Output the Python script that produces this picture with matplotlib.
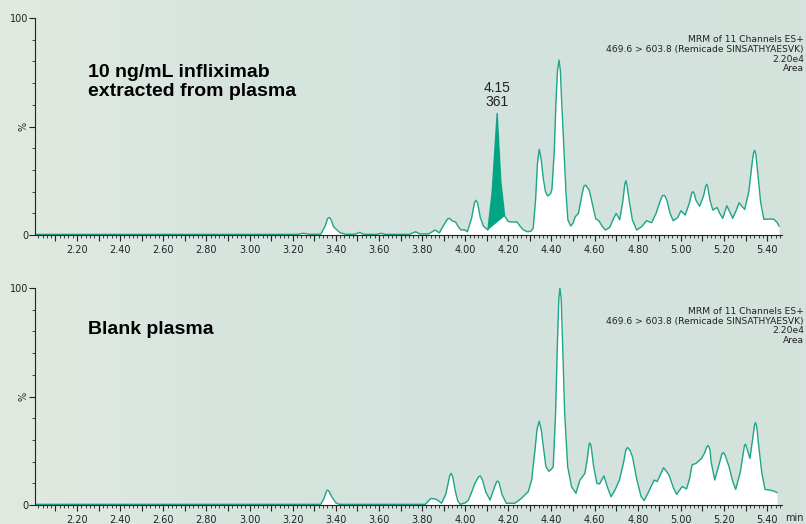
import numpy as np
import matplotlib
import matplotlib.pyplot as plt
from matplotlib.ticker import MultipleLocator, FuncFormatter

matplotlib.use('Agg')

# retention time (min) and relative intensity (%)
sample_time = [2.00, 3.22, 3.25, 3.28, 3.33, 3.35, 3.362, 3.37, 3.378, 3.39, 3.40, 3.42, 3.45,
               3.49, 3.51, 3.53, 3.59, 3.61, 3.63, 3.74, 3.77, 3.79, 3.83, 3.86, 3.88, 3.90,
               3.918, 3.927, 3.94, 3.955, 3.97, 3.98, 3.995, 4.01, 4.03, 4.043, 4.05, 4.058,
               4.07, 4.085, 4.105, 4.125, 4.148, 4.165, 4.183, 4.20, 4.22, 4.24, 4.255, 4.27,
               4.29, 4.305, 4.315, 4.326, 4.335, 4.343, 4.352, 4.362, 4.372, 4.382, 4.395,
               4.402, 4.413, 4.421, 4.428, 4.435, 4.441, 4.447, 4.458, 4.467, 4.476, 4.489,
               4.50, 4.51, 4.525, 4.54, 4.55, 4.558, 4.575, 4.59, 4.605, 4.62, 4.635, 4.65,
               4.67, 4.685, 4.70, 4.716, 4.73, 4.74, 4.745, 4.75, 4.76, 4.775, 4.795, 4.82,
               4.84, 4.864, 4.885, 4.905, 4.915, 4.925, 4.935, 4.95, 4.964, 4.985, 5.00, 5.02,
               5.04, 5.05, 5.056, 5.062, 5.07, 5.087, 5.105, 5.115, 5.12, 5.125, 5.135, 5.148,
               5.168, 5.18, 5.194, 5.213, 5.225, 5.24, 5.255, 5.27, 5.285, 5.296, 5.315, 5.33,
               5.337, 5.342, 5.348, 5.355, 5.37, 5.385, 5.41, 5.43, 5.445, 5.455]
sample_pct = [0.3, 0.3, 0.8, 0.3, 0.4, 4.0, 7.6, 8.1, 7.0, 3.8, 2.8, 1.0, 0.3,
              0.4, 1.2, 0.3, 0.3, 0.8, 0.3, 0.3, 1.5, 0.5, 0.5, 2.3, 1.0, 4.5,
              7.4, 7.7, 6.5, 6.0, 3.5, 2.3, 2.5, 1.5, 8.0, 15.0, 16.0, 14.5,
              8.0, 4.0, 2.3, 20.0, 56.0, 25.0, 8.7, 6.2, 6.0, 6.0, 4.0, 2.3,
              1.5, 1.8, 3.0, 16.0, 33.0, 39.5, 35.0, 26.0, 20.0, 18.0, 19.0,
              21.0, 39.0, 62.0, 76.0, 80.6, 76.0, 62.0, 39.0, 20.0, 7.0, 4.1,
              5.5, 8.4, 10.0, 18.0, 22.5, 23.0, 20.7, 14.0, 7.5, 6.5, 4.0, 2.3,
              3.5, 7.0, 10.0, 7.0, 15.0, 23.5, 25.0, 23.0, 16.0, 7.0, 2.3, 4.0,
              6.6, 5.7, 10.0, 16.0, 18.2, 18.2, 16.0, 10.0, 6.6, 8.0, 11.2, 9.2,
              15.0, 19.3, 20.0, 19.0, 16.0, 13.3, 18.0, 22.5, 23.4, 22.0, 16.0, 11.5,
              12.7, 10.0, 7.7, 13.5, 11.0, 7.7, 11.0, 14.9, 13.0, 11.8, 20.0, 33.0,
              38.0, 39.0, 37.0, 30.0, 15.0, 7.2, 7.4, 7.3, 6.0, 4.1]

blank_time = [2.00, 3.33, 3.345, 3.356, 3.362, 3.37, 3.38, 3.40, 3.415, 3.815, 3.84, 3.86, 3.875,
              3.89, 3.91, 3.928, 3.935, 3.942, 3.955, 3.965, 3.977, 4.00, 4.015, 4.03, 4.045,
              4.062, 4.07, 4.08, 4.095, 4.115, 4.135, 4.146, 4.152, 4.158, 4.17, 4.19, 4.23,
              4.26, 4.28, 4.292, 4.308, 4.323, 4.333, 4.343, 4.352, 4.362, 4.374, 4.388, 4.40,
              4.408, 4.419, 4.427, 4.434, 4.439, 4.445, 4.452, 4.461, 4.475, 4.493, 4.513,
              4.532, 4.555, 4.567, 4.574, 4.578, 4.584, 4.595, 4.61, 4.623, 4.643, 4.66, 4.676,
              4.695, 4.715, 4.735, 4.745, 4.753, 4.765, 4.776, 4.795, 4.815, 4.83, 4.85, 4.876,
              4.89, 4.905, 4.92, 4.945, 4.965, 4.98, 5.006, 5.026, 5.04, 5.052, 5.07, 5.085,
              5.096, 5.11, 5.12, 5.127, 5.135, 5.14, 5.157, 5.175, 5.19, 5.197, 5.205, 5.223,
              5.24, 5.254, 5.275, 5.295, 5.30, 5.32, 5.335, 5.341, 5.346, 5.352, 5.36, 5.375,
              5.39, 5.41, 5.43, 5.445]
blank_pct = [0.3, 0.3, 3.0, 6.2, 6.9, 6.0, 4.0, 1.0, 0.3, 0.3, 3.0, 2.8, 2.0,
             0.8, 5.0, 13.5, 14.6, 13.0, 6.0, 2.0, 0.3, 1.0, 2.3, 6.0, 10.0,
             13.0, 13.4, 11.5, 6.0, 2.3, 8.0, 10.8, 11.0, 10.0, 5.0, 0.8, 0.8,
             3.0, 5.0, 6.1, 11.5, 25.0, 35.0, 38.6, 35.0, 27.0, 17.7, 15.5, 16.5,
             17.7, 42.4, 73.0, 95.0, 100.0, 95.0, 73.0, 42.4, 17.7, 8.4, 5.4,
             11.5, 14.6, 22.0, 27.8, 28.6, 27.0, 18.0, 10.0, 9.7, 13.4, 8.0, 3.8,
             7.0, 11.5, 20.0, 25.5, 26.5, 25.0, 22.0, 12.0, 4.0, 2.0, 6.0, 11.5,
             10.8, 14.0, 17.2, 13.8, 8.0, 4.9, 8.5, 7.4, 12.0, 18.5, 19.2, 20.5,
             21.5, 24.0, 26.8, 27.4, 25.5, 20.0, 11.5, 18.0, 23.5, 24.2, 23.0, 17.7,
             11.0, 7.2, 15.0, 27.5, 28.0, 21.5, 32.0, 36.5, 38.0, 36.0, 28.0, 15.0,
             7.2, 6.9, 6.5, 5.7]

# integrated peak in the sample trace
peak_start, peak_end = 4.105, 4.183
peak_label = '4.15\n361'

info_text = 'MRM of 11 Channels ES+\n469.6 > 603.8 (Remicade SINSATHYAESVK)\n2.20e4\nArea'
panel_titles = ['10 ng/mL infliximab\nextracted from plasma', 'Blank plasma']

line_color = '#1fa58a'
peak_color = '#00a584'
text_color = '#222222'


def style_axis(ax, show_min):
    ax.set_xlim(2.005, 5.468)
    ax.set_ylim(0, 100)
    ax.patch.set_alpha(0)
    for side in ['top', 'right']:
        ax.spines[side].set_visible(False)
    for side in ['left', 'bottom']:
        ax.spines[side].set_color('#222222')
        ax.spines[side].set_linewidth(0.8)

    ax.xaxis.set_major_locator(MultipleLocator(0.1))
    ax.xaxis.set_minor_locator(MultipleLocator(0.02))
    ax.xaxis.set_major_formatter(FuncFormatter(
        lambda v, p: f'{v:.2f}' if round(v * 10) % 2 == 0 else ''))
    ax.tick_params(axis='x', which='major', length=4, width=0.8, pad=3,
                   labelsize=7, labelcolor=text_color, color='#222222')
    ax.tick_params(axis='x', which='minor', length=2, width=0.6, color='#222222')

    ax.set_yticks([0, 50, 100])
    ax.set_yticklabels(['0', '%', '100'])
    ax.yaxis.set_minor_locator(MultipleLocator(10))
    ax.tick_params(axis='y', which='major', length=4, width=0.8, pad=1,
                   labelsize=7, labelcolor=text_color, color='#222222')
    ax.tick_params(axis='y', which='minor', length=2.5, width=0.6, color='#222222')
    ax.get_yticklabels()[1].set_rotation(90)
    ax.get_yticklabels()[1].set_va('center')

    if show_min:
        ax.text(1.005, -0.058, 'min', transform=ax.transAxes, fontsize=7,
                color=text_color, ha='left', va='center')


def plot():
    fig = plt.figure(figsize=(8.06, 5.24), dpi=100)

    # soft background, only slightly lighter towards the left edge
    bg = fig.add_axes([0, 0, 1, 1], zorder=-10)
    grad = np.linspace(0, 1, 256)[None, :] * np.ones((10, 1))
    cmap = matplotlib.colors.LinearSegmentedColormap.from_list(
        'bg', ['#e2eadf', '#d8e5df', '#d4e3dd', '#d3e2dc', '#d5e2dd'])
    bg.imshow(grad, aspect='auto', cmap=cmap, extent=[0, 1, 0, 1])
    bg.axis('off')

    ax1 = fig.add_axes([0.0434, 0.5515, 0.9266, 0.414])
    ax2 = fig.add_axes([0.0434, 0.0363, 0.9266, 0.414])

    traces = [(sample_time, sample_pct), (blank_time, blank_pct)]
    for i, (ax, (t, y)) in enumerate(zip([ax1, ax2], traces)):
        t = np.array(t)
        y = np.array(y)
        ax.fill_between(t, y, 0, color='white', lw=0)
        ax.plot(t, y, color=line_color, lw=1.0)
        style_axis(ax, show_min=(i == 1))
        ax.text(0.071, 0.79 if i == 0 else 0.848, panel_titles[i], transform=ax.transAxes,
                fontsize=14, fontweight='bold', family='Liberation Sans',
                color='black', ha='left', va='top', linespacing=1.2)

    # highlighted integrated peak
    t1 = np.array(sample_time)
    y1 = np.array(sample_pct)
    mask = (t1 >= peak_start) & (t1 <= peak_end)
    ax1.fill(t1[mask], y1[mask], color=peak_color, lw=0, zorder=3)
    top = t1[mask][np.argmax(y1[mask])]
    ax1.text(top, y1[mask].max() + 2, peak_label, fontsize=10, family='Liberation Sans',
             color=text_color, ha='center', va='bottom', linespacing=1.05)

    fig.text(0.9975, 0.933, info_text, fontsize=6.6, color=text_color,
             ha='right', va='top', linespacing=1.1)
    fig.text(0.9975, 0.414, info_text, fontsize=6.6, color=text_color,
             ha='right', va='top', linespacing=1.1)

    fig.savefig('out.png', dpi=100)


if __name__ == '__main__':
    plot()
